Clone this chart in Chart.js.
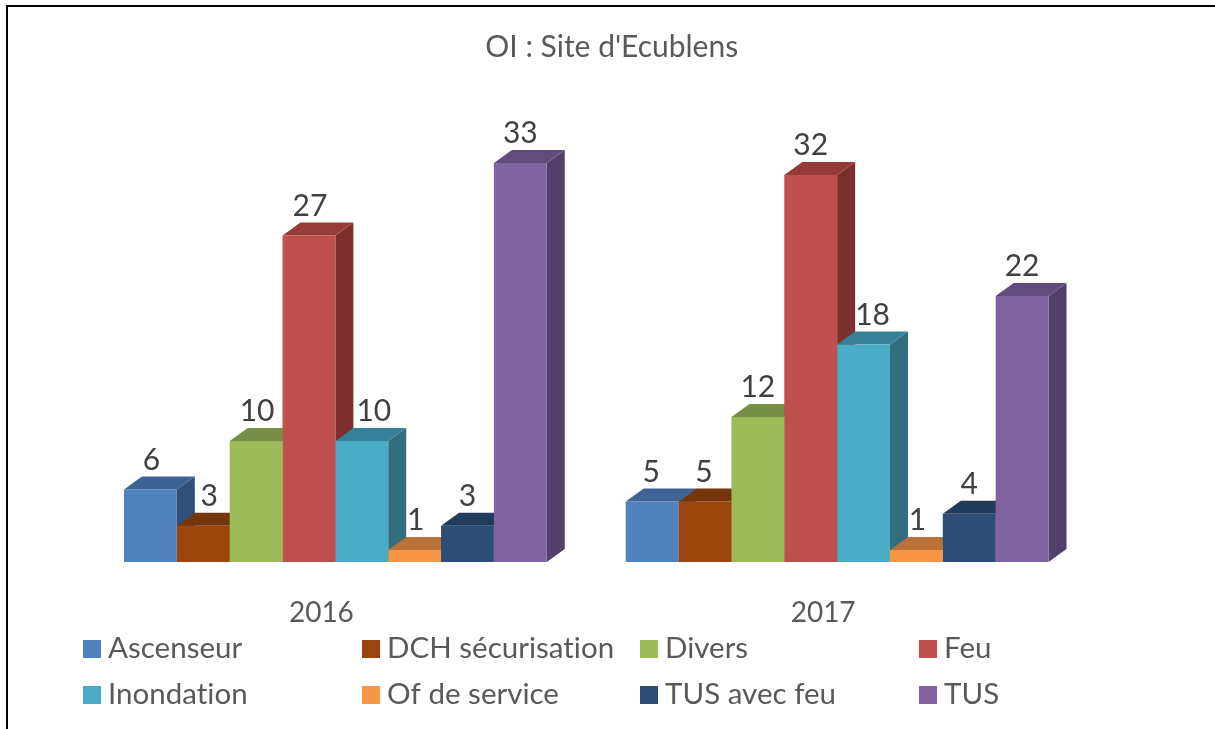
<!DOCTYPE html>
<html><head><meta charset="utf-8">
<style>html,body{margin:0;padding:0;background:#fff;overflow:hidden}#w{position:relative;width:1215px;height:729px}canvas{display:block}</style>
<script src="https://cdn.jsdelivr.net/npm/chart.js@4"></script></head>
<body><div id="w"><canvas id="c" width="1215" height="729"></canvas></div>
<script>
const chartTitle = "OI : Site d'Ecublens";
const years = ['2016','2017'];
const ascenseur = [6,5];
const dchSecurisation = [3,5];
const divers = [10,12];
const feu = [27,32];
const inondation = [10,18];
const ofDeService = [1,1];
const tusAvecFeu = [3,4];
const tus = [33,22];
const seriesNames = ['Ascenseur','DCH sécurisation','Divers','Feu','Inondation','Of de service','TUS avec feu','TUS'];
const seriesValues = [ascenseur,dchSecurisation,divers,feu,inondation,ofDeService,tusAvecFeu,tus];
const front = ['#4F81BD','#9C450D','#9BBB59','#C0504D','#4BACC6','#F79646','#2C4D75','#8064A2'];
const side  = ['#2F5078','#6E300A','#6F8740','#7D2F2D','#306E80','#B5703A','#1E3654','#533F6B'];
const topc  = ['#3C6394','#76350A','#768E45','#963B39','#37809A','#BA7238','#213B5C','#624C7E'];
// manual label nudges [series][year], as in the reference
const labelNudge = [[1,-1],[6,-1],[1,0],[1,0],[12,9],[1,1],[0,0],[0,0]];
const DX=18, DY=13, FONT='Lato, "Open Sans", sans-serif';

const depth = {id:'depth',
 beforeDatasetsDraw(ch){const g=ch.ctx;g.save();
  ch.data.datasets.forEach((d,i)=>{ch.getDatasetMeta(i).data.forEach(b=>{
    const l=b.x-b.width/2,r=b.x+b.width/2,t=b.y,bs=b.base;
    g.fillStyle=side[i];g.beginPath();g.moveTo(r,t);g.lineTo(r+DX,t-DY);g.lineTo(r+DX,bs-DY);g.lineTo(r,bs);g.closePath();g.fill();
    g.fillStyle=topc[i];g.beginPath();g.moveTo(l,t);g.lineTo(l+DX,t-DY);g.lineTo(r+DX,t-DY);g.lineTo(r,t);g.closePath();g.fill();
  });});g.restore();},
 afterDatasetsDraw(ch){const g=ch.ctx;g.save();
  g.font='30px '+FONT;g.fillStyle='#404040';g.textAlign='center';g.textBaseline='middle';
  ch.data.datasets.forEach((d,i)=>{ch.getDatasetMeta(i).data.forEach((b,j)=>{
    g.fillText(String(d.data[j]),b.x+labelNudge[i][j],b.y-29.5);
  });});g.restore();},
 afterDraw(ch){const g=ch.ctx;g.save();
  g.fillStyle='#000';g.fillRect(6,5,1209,2);g.fillRect(6,5,2,724);
  const cols=[83,362,640,919],rows=[649,695];
  g.font='29.5px '+FONT;g.textBaseline='middle';g.textAlign='left';
  if('letterSpacing' in g) g.letterSpacing='0.01px';
  seriesNames.forEach((n,i)=>{const x=cols[i%4],y=rows[i>>2];
    g.fillStyle=front[i];g.fillRect(x,y-9,18,18);
    g.fillStyle='#595959';g.fillText(n,x+25,y-1);});
  g.restore();}
};
new Chart(document.getElementById('c'),{type:'bar',
 data:{labels:years,datasets:seriesNames.map((n,i)=>({label:n,data:seriesValues[i],backgroundColor:front[i],borderWidth:0,categoryPercentage:0.8426,barPercentage:1}))},
 plugins:[depth],
 options:{responsive:false,animation:false,
  layout:{padding:{left:9,right:0.5,top:0,bottom:73.4}},
  plugins:{legend:{display:false},tooltip:{enabled:false},
   title:{display:true,text:chartTitle,color:'#595959',font:{family:FONT,size:30,weight:'normal'},padding:{top:29,bottom:13.4}}},
  scales:{
   x:{grid:{display:false},border:{display:false},ticks:{color:'#595959',padding:26,labelOffset:-14,font:{family:FONT,size:28}}},
   y:{min:0,max:40,position:'left',grid:{display:false},border:{display:false},ticks:{display:false},afterFit(s){s.width=75.5;}},
   y2:{min:0,max:40,position:'right',grid:{display:false},border:{display:false},ticks:{display:false},afterFit(s){s.width=126.5;}}
  }}});
</script></body></html>
